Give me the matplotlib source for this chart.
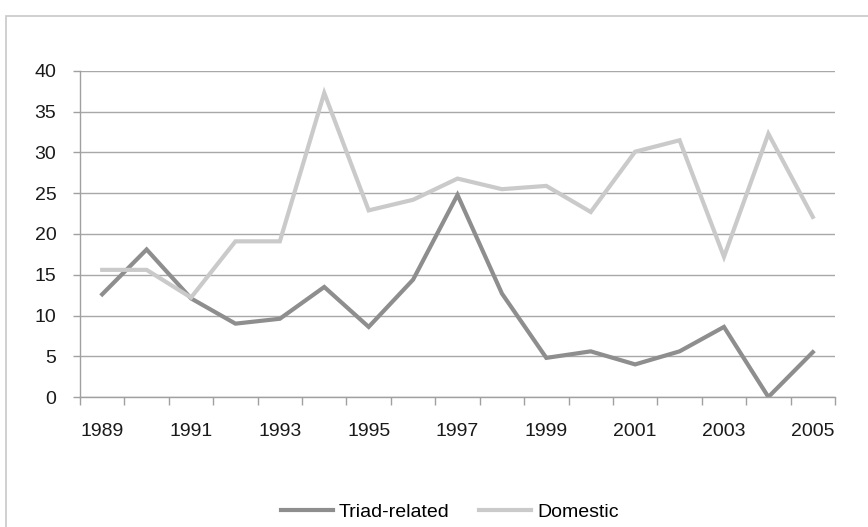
import matplotlib.pyplot as plt
import numpy as np
from matplotlib.patches import Rectangle

plt.rcParams['font.family'] = ['Liberation Sans', 'DejaVu Sans']

years = list(range(1989, 2006))
triad = [12.6, 18.1, 12.1, 9.0, 9.6, 13.5, 8.6, 14.4, 24.8, 12.7, 4.8, 5.6, 4.0, 5.6, 8.6, 0.0, 5.5]
domestic = [15.6, 15.6, 12.2, 19.1, 19.1, 37.3, 22.9, 24.2, 26.8, 25.5, 25.9, 22.7, 30.1, 31.5, 17.2, 32.3, 22.1]

fig = plt.figure(figsize=(8.68, 5.27), dpi=100)
# outer chart frame (top and left edges visible)
fig.patches.append(Rectangle((6 / 868, -0.1), 1.1, (527 - 16) / 527 + 0.1,
                             transform=fig.transFigure, fill=False,
                             edgecolor='#c8c8c8', linewidth=1.2))

ax = fig.add_axes([80 / 868, 130 / 527, 755 / 868, 326 / 527])

x = np.arange(len(years))
ax.plot(x, triad, color='#8e8e8e', linewidth=3, label='Triad-related', solid_joinstyle='miter')
ax.plot(x, domestic, color='#cacaca', linewidth=3, label='Domestic', solid_joinstyle='miter')

ax.set_xlim(-0.5, len(years) - 0.5)
ax.set_ylim(0, 40)
ax.set_yticks(range(0, 41, 5))
ax.yaxis.grid(True, color='#a8a8a8', linewidth=1)
ax.set_axisbelow(True)

ax.set_xticks(np.arange(-0.5, len(years), 1.0))
ax.set_xticklabels([])
ax.set_xticks(x[::2], minor=True)
ax.set_xticklabels([str(y) for y in years[::2]], minor=True)
ax.tick_params(axis='x', which='major', length=6, color='#a0a0a0', width=1)
ax.tick_params(axis='x', which='minor', length=0, pad=19, labelsize=14, labelcolor='#1a1a1a')
ax.tick_params(axis='y', length=5, color='#a0a0a0', width=1, labelsize=14, labelcolor='#1a1a1a', pad=12)

for s in ['top', 'right']:
    ax.spines[s].set_visible(False)
for s in ['left', 'bottom']:
    ax.spines[s].set_color('#a0a0a0')
    ax.spines[s].set_linewidth(1)

fig.legend(loc='center', bbox_to_anchor=(0.518, 15 / 527), ncol=2, frameon=False,
           fontsize=14, handlelength=2.7, columnspacing=1.5, handletextpad=0.3)

fig.savefig('out.png', dpi=100)
